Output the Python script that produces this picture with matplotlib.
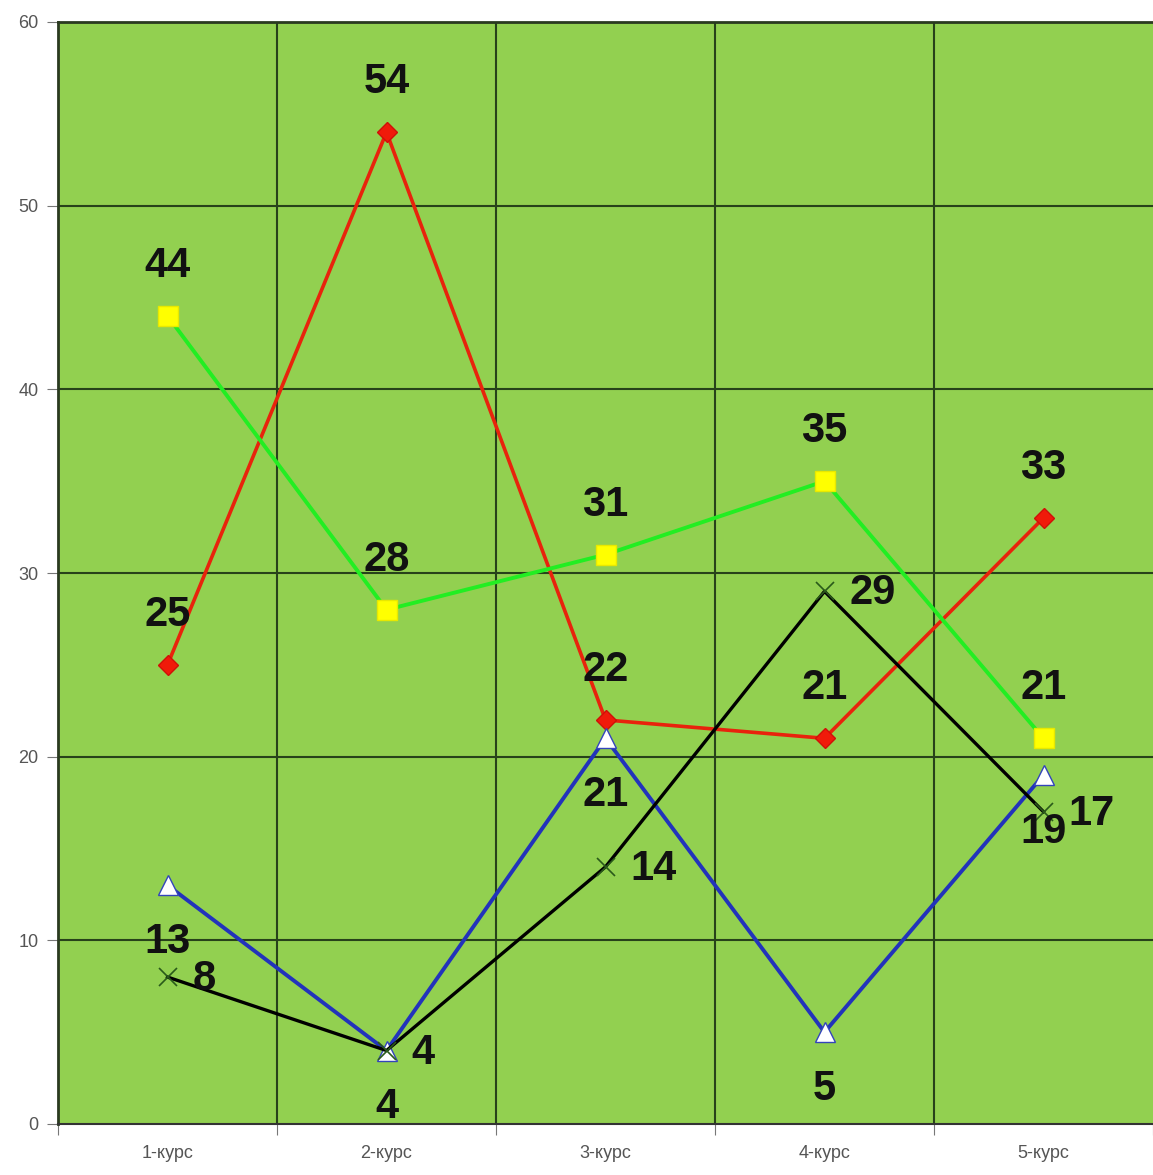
import matplotlib
matplotlib.use("Agg")
import matplotlib.pyplot as plt
import numpy as np

categories = ["1-курс", "2-курс", "3-курс", "4-курс", "5-курс"]
red_vals = [25, 54, 22, 21, 33]
green_vals = [44, 28, 31, 35, 21]
blue_vals = [13, 4, 21, 5, 19]
black_vals = [8, 4, 14, 29, 17]
y_ticks = [0, 10, 20, 30, 40, 50, 60]

plt.rcParams['font.family'] = ['Liberation Sans', 'DejaVu Sans']

fig = plt.figure(figsize=(11.53, 11.75), dpi=100)
ax = fig.add_axes([58/1153, 51/1175, 1 - 58/1153, (1124-22)/1175])
ax.set_facecolor('#92d050')

x = np.arange(1, len(categories) + 1)
ax.set_xlim(0.5, len(categories) + 0.5)
ax.set_ylim(0, 60)

grid_c = '#27421a'
for yv in y_ticks[1:]:
    ax.axhline(yv, color=grid_c, lw=1.5, zorder=1)
for xv in np.arange(1.5, len(categories) + 0.5, 1):
    ax.axvline(xv, color=grid_c, lw=1.5, zorder=1)

ax.plot(x, red_vals, color='#e8230c', lw=2.6, marker='D', ms=10,
        mfc='#f01a0a', mec='#d01008', zorder=3)
ax.plot(x, green_vals, color='#22ee22', lw=2.8, marker='s', ms=14,
        mfc='#ffff00', mec='#e8e800', zorder=3)
ax.plot(x, blue_vals, color='#2233bb', lw=2.8, marker='^', ms=14,
        mfc='white', mec='#3344bb', mew=1.0, zorder=3)
ax.plot(x, black_vals, color='black', lw=2.4, marker='x', ms=13,
        mec='#2a5a1a', mew=1.2, zorder=4)

fs = 30
txt = dict(fontsize=fs, fontweight='bold', color='#111111', zorder=5,
           textcoords='offset points')
for xi, v in zip(x, red_vals):
    ax.annotate(str(v), (xi, v), xytext=(0, 36), ha='center', va='center', **txt)
for xi, v in zip(x, green_vals):
    ax.annotate(str(v), (xi, v), xytext=(0, 36), ha='center', va='center', **txt)
for xi, v in zip(x, blue_vals):
    ax.annotate(str(v), (xi, v), xytext=(0, -41), ha='center', va='center', **txt)
for xi, v in zip(x, black_vals):
    ax.annotate(str(v), (xi, v), xytext=(18, -1.5), ha='left', va='center', **txt)

ax.set_yticks(y_ticks)
ax.set_yticklabels([str(t) for t in y_ticks], fontsize=13, color='#555555')
ax.set_xticks(np.arange(0.5, len(categories) + 1, 1))
ax.set_xticklabels([])
ax.set_xticks(x, minor=True)
ax.set_xticklabels(categories, minor=True, fontsize=13, color='#555555')
ax.tick_params(axis='x', which='major', length=8, color='#777777', direction='out')
ax.tick_params(axis='x', which='minor', length=0, pad=15)
ax.tick_params(axis='y', length=8, color='#777777', direction='out', pad=6)

for s in ['left', 'top']:
    ax.spines[s].set_color('#2a3a20')
    ax.spines[s].set_linewidth(2)
ax.spines['bottom'].set_color('#333333')
ax.spines['bottom'].set_linewidth(1.5)
ax.spines['right'].set_visible(False)

fig.savefig('out.png', dpi=100, facecolor='white')
